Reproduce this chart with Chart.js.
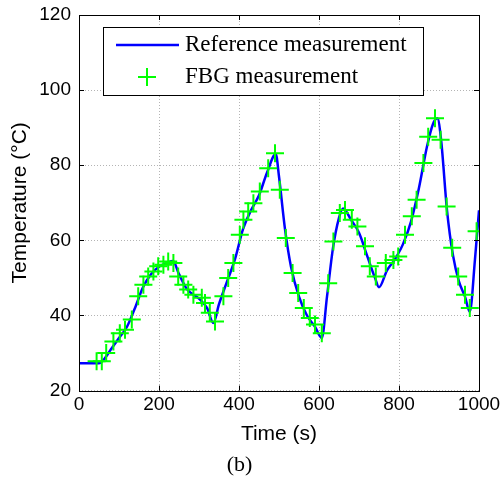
<!DOCTYPE html>
<html>
<head>
<meta charset="utf-8">
<script src="https://cdn.jsdelivr.net/npm/chart.js@4/dist/chart.umd.min.js"></script>
<style>
  html, body { margin: 0; padding: 0; background: #fff; }
  #wrap { width: 503px; height: 483px; }
</style>
</head>
<body>
<div id="wrap"><canvas id="chart" width="503" height="483"></canvas></div>
<script>
// reference (thermocouple) curve
const refTime = [0, 50, 60, 80, 100, 120, 140, 160, 180, 200, 220, 235, 250, 270, 300, 320, 336,
  350, 370, 390, 410, 430, 450, 470, 492, 500, 515, 530, 550, 570, 590, 607, 620, 635, 650, 660,
  680, 700, 720, 740, 750, 770, 790, 810, 830, 850, 870, 885, 896, 905, 920, 935, 950, 965, 977,
  990, 1000];
const refTemp = [27.3, 27.3, 28, 31, 34, 37, 42, 47.5, 51, 53, 54, 54.5, 51, 47, 44.5, 42, 38,
  43, 49, 55, 63, 68, 72, 78, 83, 77, 63, 53, 45, 40, 37, 34, 45, 58, 66, 68.5,
  65.5, 62, 56, 50, 47.5, 52, 55, 59, 65, 74, 85, 91, 92.5, 87, 68, 56, 49, 45, 41,
  55, 68];

// FBG sensor readings
const fbgTime = [44, 57, 68, 86, 102, 115, 132, 148, 161, 173, 186, 198, 211, 223, 236, 248,
  261, 273, 286, 307, 315, 327, 340, 361, 373, 386, 402, 411, 423, 436, 452, 473, 490, 502,
  517, 534, 548, 562, 577, 590, 607, 623, 636, 652, 665, 682, 696, 715, 727, 742, 767, 786,
  798, 815, 832, 844, 861, 873, 890, 904, 919, 933, 948, 965, 977, 994];
const fbgTemp = [27.8, 27.8, 30, 33.1, 35.3, 36.2, 38.9, 45.1, 48.2, 50.4, 51.7, 53.1, 53.5,
  54.4, 54.0, 50.4, 48.2, 46.9, 45.5, 44.7, 43.3, 40.7, 38.4, 45.1, 50, 54, 61.5, 65.5, 67.7,
  69.9, 73, 79.2, 83.2, 73.5, 60.6, 51.3, 46, 42, 39.3, 37.6, 35.3, 48.6, 59.7, 67.3, 68.1,
  65.5, 63.7, 58.4, 53.1, 50.4, 54, 54.8, 55.7, 61.5, 66.4, 70.8, 80.6, 87.6, 92.5, 86.8, 69,
  58, 50.4, 45.5, 42, 62.4];

const xTicks = [0, 200, 400, 600, 800, 1000];
const yTicks = [20, 40, 60, 80, 100, 120];

const toXY = (xs, ys) => xs.map((x, i) => ({ x: x, y: ys[i] }));

const sans = "'Liberation Sans', Arial, sans-serif";
const serif = "'Liberation Serif', 'DejaVu Serif', serif";
const tickFont = { family: sans, size: 19 };
const titleFont = { family: sans, size: 21 };

// box, inward ticks and legend, MATLAB style
const frame = {
  id: "frame",
  afterDatasetsDraw(chart) {
    const { ctx, chartArea: a, scales } = chart;
    ctx.save();
    ctx.strokeStyle = "#000";
    ctx.lineWidth = 1;
    ctx.beginPath();
    xTicks.forEach(v => {
      const px = Math.round(scales.x.getPixelForValue(v)) + 0.5;
      ctx.moveTo(px, a.bottom); ctx.lineTo(px, a.bottom - 5);
      ctx.moveTo(px, a.top); ctx.lineTo(px, a.top + 5);
    });
    yTicks.forEach(v => {
      const py = Math.round(scales.y.getPixelForValue(v)) + 0.5;
      ctx.moveTo(a.left, py); ctx.lineTo(a.left + 5, py);
      ctx.moveTo(a.right, py); ctx.lineTo(a.right - 5, py);
    });
    ctx.stroke();
    ctx.strokeRect(Math.round(a.left) + 0.5, Math.round(a.top) + 0.5,
      Math.round(a.right - a.left), Math.round(a.bottom - a.top));

    // legend
    const lx = a.left + 24, ly = a.top + 12, lw = 320, lh = 68;
    ctx.fillStyle = "#fff";
    ctx.fillRect(lx, ly, lw, lh);
    ctx.strokeRect(lx + 0.5, ly + 0.5, lw, lh);
    ctx.strokeStyle = "#0000ff";
    ctx.lineWidth = 2.5;
    ctx.beginPath();
    ctx.moveTo(lx + 13, ly + 18); ctx.lineTo(lx + 76, ly + 18);
    ctx.stroke();
    ctx.strokeStyle = "#00ff00";
    ctx.lineWidth = 2;
    ctx.beginPath();
    ctx.moveTo(lx + 35, ly + 50); ctx.lineTo(lx + 53, ly + 50);
    ctx.moveTo(lx + 44, ly + 41); ctx.lineTo(lx + 44, ly + 59);
    ctx.stroke();
    ctx.fillStyle = "#000";
    ctx.font = "23px " + serif;
    ctx.textBaseline = "middle";
    ctx.fillText("Reference measurement", lx + 82, ly + 18);
    ctx.fillText("FBG measurement", lx + 82, ly + 50);
    ctx.restore();
  }
};

new Chart(document.getElementById("chart"), {
  type: "scatter",
  data: {
    datasets: [
      {
        label: "FBG measurement",
        data: toXY(fbgTime, fbgTemp),
        pointStyle: "cross",
        pointRadius: 9,
        pointBorderWidth: 2,
        borderColor: "#00ff00",
        backgroundColor: "#00ff00",
        showLine: false,
        order: 0,
      },
      {
        label: "Reference measurement",
        data: toXY(refTime, refTemp),
        showLine: true,
        borderColor: "#0000ff",
        borderWidth: 2.5,
        pointRadius: 0,
        cubicInterpolationMode: "monotone",
        order: 1,
      },
    ],
  },
  options: {
    responsive: false,
    animation: false,
    layout: { padding: { top: 15, right: 24, left: 0, bottom: 0 } },
    plugins: {
      legend: { display: false },
      tooltip: { enabled: false },
      title: {
        display: true,
        text: "(b)",
        position: "bottom",
        color: "#000",
        font: { family: serif, size: 22, weight: "normal" },
        padding: { top: 0, bottom: 5 },
      },
    },
    scales: {
      x: {
        type: "linear",
        min: 0,
        max: 1000,
        afterBuildTicks: s => { s.ticks = xTicks.map(v => ({ value: v })); },
        afterFit: s => { s.height = 61; s.paddingLeft = 0; s.paddingRight = 0; },
        ticks: { color: "#000", font: tickFont, padding: 3, maxRotation: 0, callback: v => String(v) },
        grid: { color: "#b4b4b4", drawTicks: false, lineWidth: 1 },
        border: { display: false, dash: [1, 2] },
        title: {
          display: true,
          text: "Time (s)",
          color: "#000",
          font: titleFont,
          padding: { top: 0, bottom: 5 },
        },
      },
      y: {
        min: 20,
        max: 120,
        afterBuildTicks: s => { s.ticks = yTicks.map(v => ({ value: v })); },
        afterFit: s => { s.width = 79; s.paddingTop = 0; s.paddingBottom = 0; },
        ticks: { color: "#000", font: tickFont, padding: 8, callback: v => String(v) },
        grid: { color: "#b4b4b4", drawTicks: false, lineWidth: 1 },
        border: { display: false, dash: [1, 2] },
        title: {
          display: true,
          text: "Temperature (°C)",
          color: "#000",
          font: titleFont,
          padding: { top: 8, bottom: 0 },
        },
      },
    },
  },
  plugins: [frame],
});
</script>
</body>
</html>
